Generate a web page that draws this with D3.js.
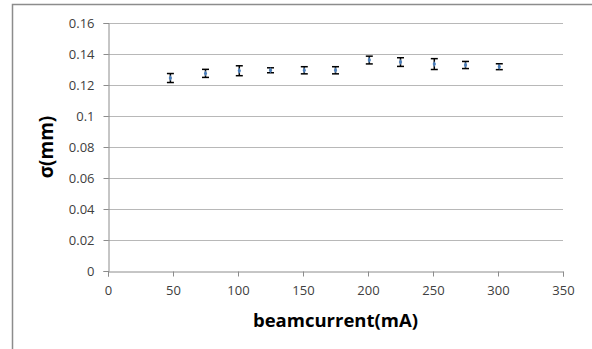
<!DOCTYPE html>
<html>
<head>
<meta charset="utf-8">
<script src="https://cdn.jsdelivr.net/npm/d3@7"></script>
<style>
  body { margin: 0; background: #fff; }
  svg text { font-family: "Open Sans", "Liberation Sans", sans-serif; }
</style>
</head>
<body>
<div id="chart"></div>
<script>
// beam current (mA) vs sigma (mm), with error bars
var current = [48, 75, 101, 125, 151, 175, 201, 225, 251, 275, 301];
var sigma   = [0.1245, 0.1275, 0.1292, 0.1295, 0.1295, 0.1295, 0.1361, 0.1348, 0.1335, 0.1329, 0.1318];
var sigmaErr = [0.0029, 0.0026, 0.0032, 0.0016, 0.0023, 0.0023, 0.0025, 0.0028, 0.0035, 0.0023, 0.0019];
var xTicks = [0, 50, 100, 150, 200, 250, 300, 350];
var yTicks = [0, 0.02, 0.04, 0.06, 0.08, 0.1, 0.12, 0.14, 0.16];

var width = 592, height = 349;
var margin = {top: 23, right: 29, bottom: 78, left: 108};

var svg = d3.select("#chart").append("svg")
    .attr("width", width)
    .attr("height", height);

// chart area border
svg.append("rect")
    .attr("x", 12.5).attr("y", 4.5)
    .attr("width", 600).attr("height", 360)
    .attr("fill", "none")
    .attr("stroke", "#8c8c8c")
    .attr("stroke-width", 1.5);

var x = d3.scaleLinear().domain([0, 350]).range([margin.left, width - margin.right]);
var y = d3.scaleLinear().domain([0, 0.16]).range([height - margin.bottom, margin.top]);

// gridlines
svg.append("g").selectAll("line")
    .data(yTicks.slice(1))
    .enter().append("line")
    .attr("x1", x(0)).attr("x2", x(350))
    .attr("y1", function(d) { return Math.round(y(d)) + 0.5; })
    .attr("y2", function(d) { return Math.round(y(d)) + 0.5; })
    .attr("stroke", "#b8b8b8");

// axes
var xAxis = svg.append("g")
    .attr("transform", "translate(0," + (Math.round(y(0)) + 0.5) + ")")
    .call(d3.axisBottom(x).tickValues(xTicks).tickSize(5).tickPadding(9).tickFormat(d3.format("d")));
var yAxis = svg.append("g")
    .attr("transform", "translate(" + (Math.round(x(0)) + 0.5) + ",0)")
    .call(d3.axisLeft(y).tickValues(yTicks).tickSize(5).tickPadding(9).tickFormat(function(d) { return d3.format("~g")(d); }));

[xAxis, yAxis].forEach(function(a) {
  a.select(".domain").attr("stroke", "#8c8c8c");
  a.selectAll(".tick line").attr("stroke", "#8c8c8c");
  a.selectAll(".tick text").attr("fill", "#404040").style("font-size", "13px");
});

// error bars
var eb = svg.append("g").selectAll("g")
    .data(current)
    .enter().append("g");

eb.append("line")
    .attr("x1", function(d) { return x(d); })
    .attr("x2", function(d) { return x(d); })
    .attr("y1", function(d, i) { return y(sigma[i] - sigmaErr[i]); })
    .attr("y2", function(d, i) { return y(sigma[i] + sigmaErr[i]); })
    .attr("stroke", "#000").attr("stroke-width", 1.5);
eb.append("line")
    .attr("x1", function(d) { return x(d) - 3.5; })
    .attr("x2", function(d) { return x(d) + 3.5; })
    .attr("y1", function(d, i) { return y(sigma[i] - sigmaErr[i]); })
    .attr("y2", function(d, i) { return y(sigma[i] - sigmaErr[i]); })
    .attr("stroke", "#000").attr("stroke-width", 1.5);
eb.append("line")
    .attr("x1", function(d) { return x(d) - 3.5; })
    .attr("x2", function(d) { return x(d) + 3.5; })
    .attr("y1", function(d, i) { return y(sigma[i] + sigmaErr[i]); })
    .attr("y2", function(d, i) { return y(sigma[i] + sigmaErr[i]); })
    .attr("stroke", "#000").attr("stroke-width", 1.5);

// markers (diamonds)
svg.append("g").selectAll("path")
    .data(current)
    .enter().append("path")
    .attr("d", d3.symbol().type(d3.symbolDiamond).size(10))
    .attr("transform", function(d, i) { return "translate(" + x(d) + "," + y(sigma[i]) + ")"; })
    .attr("fill", "#4a7ebb");

// axis titles
svg.append("text")
    .attr("x", (x(0) + x(350)) / 2)
    .attr("y", 327)
    .attr("text-anchor", "middle")
    .style("font-size", "18.5px")
    .style("font-weight", "bold")
    .attr("fill", "#000")
    .text("beamcurrent(mA)");

svg.append("text")
    .attr("transform", "translate(53," + ((y(0) + y(0.16)) / 2) + ") rotate(-90)")
    .attr("text-anchor", "middle")
    .style("font-size", "19px")
    .style("font-weight", "bold")
    .attr("fill", "#000")
    .text("σ(mm)");
</script>
</body>
</html>
